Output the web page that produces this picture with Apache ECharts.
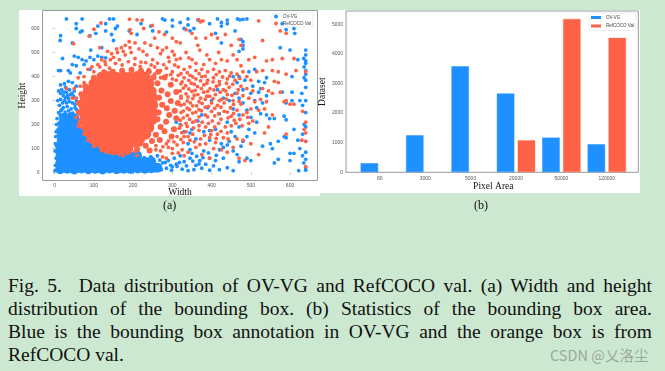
<!DOCTYPE html>
<html>
<head>
<meta charset="utf-8">
<script src="https://cdn.jsdelivr.net/npm/echarts@6/dist/echarts.min.js"></script>
<style>
  html, body { margin: 0; padding: 0; width: 665px; height: 371px; overflow: hidden; background: #cde8d0; }
  .panel { position: absolute; background: #fff; }
  #chart { position: absolute; left: 0; top: 0; width: 665px; height: 210px; filter: blur(0.3px); }
  .sub { position: absolute; top: 198px; font: 12px "Liberation Serif", serif; color: #111; }
  #caption {
    position: absolute; left: 8px; top: 274px; width: 644px;
    font: 19.5px/23px "Liberation Serif", serif; color: #111;
  }
  #caption div { text-align: justify; text-align-last: justify; white-space: pre-wrap; }
  #caption div:last-child { text-align-last: left; }
  #mark { position: absolute; left: 550px; top: 344px; font: 14.5px "Noto Sans CJK SC", "Noto Sans", sans-serif; color: #9aa89c; }
</style>
</head>
<body>
<div class="panel" style="left:19px;top:10px;width:301px;height:186px"></div>
<div class="panel" style="left:320px;top:10px;width:320px;height:183px"></div>
<div id="chart"></div>
<div class="sub" style="left:163px">(a)</div>
<div class="sub" style="left:474px">(b)</div>
<div id="caption">
<div>Fig. 5.  Data distribution of OV-VG and RefCOCO val. (a) Width and height</div>
<div>distribution of the bounding box. (b) Statistics of the bounding box area.</div>
<div>Blue is the bounding box annotation in OV-VG and the orange box is from</div>
<div>RefCOCO val.</div>
</div>
<div id="mark">CSDN @乂洛尘</div>

<script>
const areaLabels = ['80', '3000', '5000', '20000', '50000', '120000']
const ovvgCounts = [315, 1260, 3590, 2670, 1180, 957]
const refcocoCounts = [null, null, null, 1090, 5190, 4550]

// thick part of the blue cloud, bottom left
const ovvgDense = [
  [14,14],[32,16],[50,13],[68,17],[86,14],[104,16],[122,13],[140,17],[158,14],[176,16],[194,15],[212,17],[230,16],[246,18],[262,20],
  [14,38],[32,40],[50,36],[68,41],[86,38],[104,40],[122,37],[140,41],[158,38],[176,40],[194,39],[212,42],[230,44],[246,46],
  [14,62],[32,60],[50,64],[68,60],[86,63],[104,60],[122,64],[140,62],[158,65],[176,62],[194,66],[210,70],
  [14,86],[32,84],[50,88],[68,85],[86,88],[104,84],[122,88],[140,86],[156,88],[172,82],
  [14,110],[32,112],[50,108],[68,112],[86,110],[104,113],[120,108],
  [18,134],[34,130],[50,134],[68,132],[84,135],
  [18,158],[34,154],[52,159],[68,156],
  [20,182],[36,178],[54,183],[62,172],
  [22,206],[38,202],[52,205],
  [24,228],[40,230],[50,226]
]

const ovvgPoints = [
  [30,640],[70,640],[140,640],[150,640],[275,640],[281,635],[300,635],[320,625],[340,640],[355,600],[340,615],[365,635],[415,640],[425,625],[440,635],[466,640],[472,636],[480,638],[490,640],
  [55,620],[70,590],[55,600],[65,585],[15,570],[14,550],[45,540],[90,570],[105,580],[110,610],[130,620],[155,600],[160,610],[130,590],[145,575],[150,550],[190,590],[210,575],[220,620],[250,590],[245,610],[285,585],[300,610],[330,600],[345,590],[395,620],[410,580],[425,610],[440,620],[425,540],[460,590],[475,555],[480,530],[480,545],[480,515],[470,505],[590,595],[610,600],[612,580],[580,620],[600,510],[575,520],[640,510],[635,475],[620,470],[92,510],[120,520],
  [20,475],[50,485],[60,480],[70,470],[80,465],[90,480],[100,470],[110,485],[120,480],[130,478],[45,450],[55,445],[65,415],[75,450],[90,430],[10,425],[15,425],[35,425],[40,415],[15,365],[25,370],[35,380],[45,375],[55,360],[10,340],[15,330],[22,320],[30,335],[40,325],[50,340],[15,305],[25,300],[35,310],[45,290],[55,300],[12,280],[22,270],[32,275],[42,265],[52,270],[60,250],[10,250],[16,258],[6,225],[5,200],[4,170],[3,150],[2,120],[1,90],[18,345],[28,355],[8,300],[30,290],[38,345],[48,318],[20,290],[28,312],[37,296],[44,330],[18,262],[27,252],[36,258],[46,248],[56,262],[14,240],[10,205],[9,180],[6,110],[4,60],[2,30],[1,8],[24,335],[33,322],[52,285],
  [640,10],[640,20],[635,40],[640,55],[632,70],[640,85],[640,130],[632,160],[640,190],[636,200],[640,250],[632,280],[640,300],[630,330],[640,355],[640,385],[636,395],[640,410],[640,425],[636,440],[640,455],[640,465],[640,490],[622,8],[625,100],[625,300],[605,300],[605,335],[590,290],[580,335],[605,400],[610,180],[620,135],[600,50],[560,40],[570,55],[610,80],[585,235],[590,145],[560,225],[548,225],[540,240],[525,245],[515,270],[510,300],[530,290],[540,320],[525,350],[515,210],[510,165],[500,50],[490,60],[470,45],[465,75],[455,90],[475,110],[480,130],[490,150],[495,180],[500,230],[490,260],[480,290],[470,310],[460,330],[445,300],[430,310],[415,345],[400,300],[390,270],[375,240],[365,215],[350,180],[345,165],[330,170],[320,200],[310,210],[340,120],[345,95],[360,140],[380,170],[395,175],[410,180],[425,120],[430,105],[420,95],[440,115],[445,130],[450,170],[460,150],[470,190],[440,210],[420,245],[395,135],[380,90],[370,50],[360,30],[345,60],[330,45],[320,70],[305,60],[310,35],[290,50],[275,40],[260,25],[245,15],[235,40],[225,20],[215,45],[340,8],[355,12],[375,18],[395,10],[420,12],[440,20],[455,8],[410,50],[430,60],[395,60],[385,35],[530,110],[550,120],[570,130],[555,100],[585,150],[600,80],[590,220],[470,240],[455,265],[480,345],[465,375],[485,385],[505,360],[520,380],[535,375],[540,395],[510,430],[495,420],[470,400],[455,400],[520,335],[500,330],
  [255,8],[272,12],[285,18],[298,10],[312,26],[325,14],[236,55],[252,48],[268,52],[282,42],[296,30],[228,62],[245,66],[262,70],[300,24],[318,42],[336,28],[352,48],[368,36],[220,52],[350,80],[362,68],[378,62],[392,82],[405,28],[412,72]
]

// solid middle of the orange cloud
const refcocoDense = [
  [135,100],[152,96],[168,100],[186,98],
  [108,130],[126,127],[144,131],[162,128],[180,131],[198,127],[214,130],
  [92,160],[110,157],[128,161],[146,158],[164,161],[182,158],[200,161],[218,157],[232,160],
  [82,190],[100,187],[118,191],[136,188],[154,191],[172,188],[190,191],[208,188],[226,191],[240,187],
  [76,220],[94,217],[112,221],[130,218],[148,221],[166,218],[184,221],[202,218],[220,221],[238,217],[248,221],
  [74,250],[92,247],[110,251],[128,248],[146,251],[164,248],[182,251],[200,248],[218,251],[236,247],[250,251],
  [74,280],[92,277],[110,281],[128,278],[146,281],[164,278],[182,281],[200,278],[218,281],[236,277],[250,281],
  [78,310],[96,307],[114,311],[132,308],[150,311],[168,308],[186,311],[204,308],[222,311],[240,307],[250,311],
  [86,340],[104,337],[122,341],[140,338],[158,341],[176,338],[194,341],[212,337],[230,341],[246,338],
  [100,370],[118,367],[136,371],[154,368],[172,371],[190,367],[208,371],[226,368],[240,371],
  [120,398],[138,400],[156,397],[174,400],[192,398],[210,400],[228,398]
]

// medium dots around the solid middle
const refcocoRing = [
  [262,222],[270,190],[258,158],[248,132],[232,112],[210,98],[265,250],[274,282],[266,312],[272,342],[262,372],[252,396],[240,420],[220,424],[196,428],[172,424],[148,420],[126,418],
  [284,212],[292,240],[286,268],[296,298],[288,326],[280,172],[268,136],[242,92],[120,104],[96,132],[80,165],[66,210],[62,250],[62,290],[68,326],[78,360],[100,395],
  [310,226],[306,258],[314,290],[304,180],[298,150],[310,336],[296,366],[280,396],[264,420]
]

const refcocoPoints = [
  [191,639],[210,636],[223,635],[367,637],[372,628],[378,632],[520,632],[118,623],[227,600],[249,613],[266,586],[192,595],[195,580],[100,597],[88,568],[48,537],[115,520],[135,505],[145,495],[160,500],[170,520],[175,505],[180,530],[190,545],[205,540],[215,515],[230,540],[245,530],[255,560],[280,575],[300,560],[310,545],[320,540],[335,595],[350,580],[360,560],[365,530],[385,560],[400,575],[415,560],[435,575],[450,530],[470,555],[475,530],[530,550],[590,580],[575,590],[510,480],[495,470],
  [150,480],[165,470],[180,490],[195,500],[205,475],[220,460],[235,490],[250,470],[270,495],[275,510],[285,520],[290,480],[300,505],[310,470],[320,475],[335,500],[350,470],[360,455],[370,510],[380,450],[395,470],[410,455],[425,470],[440,465],[455,490],[465,470],[475,445],[120,470],[110,450],[95,440],[85,430],[100,420],[115,440],[130,450],[140,435],[75,400],[60,395],[50,350],[30,350],[45,310],[55,310],[60,195],[55,230],[65,360],[75,375],
  [155,455],[172,448],[188,462],[204,450],[218,442],[232,458],[246,448],[262,456],[278,450],[292,462],[306,448],[128,462],[142,470],[158,515],[192,520],[225,505],[262,520],[305,490],[342,478],[388,490],[418,500],
  [240,430],[255,440],[270,425],[285,435],[300,420],[315,440],[330,430],[345,440],[360,425],[375,430],[390,420],[405,430],[420,420],[435,425],[450,415],[465,410],[480,420],[490,400],[500,385],[515,420],[530,425],[555,425],[570,420],[590,410],[615,425],[640,420],[610,475],[580,475],[555,470],[540,465],[590,300],[585,295],[600,285],[610,285],[575,335],[560,380],[570,375],[545,340],[555,330],[530,350],[525,305],[540,295],[520,260],[535,265],[555,240],[535,165],[520,75],[545,190],[590,160],[640,130],[630,135],[640,210],[636,180],[640,165],[632,255],[640,25],
  [296,408],[322,412],[338,416],[352,398],[368,412],[384,402],[412,408],[428,398],[446,402],[472,392],[310,385],[325,378],[342,384],[356,368],[372,382],[388,372],[404,378],[420,366],[438,372],[454,368],[328,352],[342,348],[358,342],[374,350],[390,338],[406,344],[422,335],[436,340],[452,322],[468,345],[322,318],[340,315],[356,322],[372,310],[388,318],[404,308],[420,300],[438,306],[456,284],[470,296],[330,285],[346,290],[362,278],[376,288],[392,276],[408,268],[424,272],[440,252],[456,246],[472,222],[328,256],[344,262],[360,252],[374,258],[390,232],[408,236],[424,222],[442,228],[458,218],[328,228],[344,222],[360,215],[376,210],[392,205],[408,190],[424,172],[442,140],[322,196],[338,192],[354,186],[368,176],[382,155],[398,158],[412,142],[324,166],[340,150],[356,128],[370,116],[322,138],[304,128],[290,132],[276,108],[258,112],[300,100],[315,82],[330,70],
  [240,400],[255,410],[270,395],[285,405],[300,390],[315,405],[330,395],[345,405],[360,390],[375,400],[390,385],[405,395],[420,380],[440,390],[460,385],[475,360],[490,350],[505,340],
  [322,370],[334,362],[348,372],[364,358],[380,365],[396,350],[412,360],[430,345],[445,355],[465,330],[480,320],[495,310],[510,295],
  [320,340],[335,328],[350,338],[365,325],[380,335],[395,318],[410,325],[425,305],[440,325],[455,300],[475,285],[490,250],[500,265],
  [322,310],[338,298],[352,308],[368,295],[384,305],[400,290],[415,280],[432,290],[448,270],[465,260],[480,240],[492,230],[505,215],
  [322,280],[338,268],[352,278],[368,262],[384,272],[400,255],[418,245],[432,255],[450,235],[462,205],[478,195],[495,205],
  [322,250],[338,238],[352,248],[368,232],[384,240],[402,215],[418,205],[435,190],[450,195],[440,165],[465,140],[480,135],[500,120],
  [320,218],[335,205],[352,210],[368,195],[385,190],[400,175],[415,160],[430,145],[395,145],[410,125],[425,95],[405,100],[440,85],[455,105],[470,60],[485,50],
  [318,185],[335,170],[352,160],[372,140],[385,120],[360,105],[345,135],[328,125],[312,115],[395,60],[375,75],
  [312,150],[330,150],[340,85],[325,95],[300,80],[285,60],[275,65],[290,105],
  [225,135],[285,120],[240,90],[258,95],[270,90],[205,88],[185,80],[165,75],[145,82],[120,92],[100,110],[85,135],[75,160],[65,190],[175,70],[210,72]
]

const chart = echarts.init(document.getElementById('chart'))

const serif = '"Liberation Serif", serif'
const plainNumber = v => String(v)
const tickText = { color: '#555', fontSize: 5, fontFamily: 'Liberation Sans', formatter: plainNumber }
const frame = { show: true, borderColor: '#999', borderWidth: 1, backgroundColor: 'transparent' }
const tickMark = { length: 2, lineStyle: { color: '#777', width: 0.5 } }
const axisTitle = { fontFamily: serif, fontSize: 9.5, color: '#111' }

chart.setOption({
  animation: false,
  grid: [
    { ...frame, left: 42.5, top: 10.5, width: 275, height: 170 },
    { ...frame, left: 346, top: 11, width: 292.3, height: 161.3 },
    { show: false, left: 357.1, top: 11, width: 272.4, height: 161.3 }
  ],
  legend: [
    {
      left: 272, top: 13, orient: 'vertical', itemWidth: 4, itemHeight: 4, itemGap: 2, padding: [1, 2],
      borderColor: '#ddd', borderWidth: 0.5, borderRadius: 1,
      textStyle: { fontSize: 4.5, color: '#444' },
      data: [{ name: 'OV-VG', icon: 'circle' }, { name: 'RefCOCO Val', icon: 'circle' }]
    },
    {
      left: 589, top: 13, orient: 'vertical', itemWidth: 10, itemHeight: 3, itemGap: 3.5, padding: [2, 2],
      borderColor: '#ddd', borderWidth: 0.5, borderRadius: 1,
      textStyle: { fontSize: 4.5, color: '#444' },
      data: [{ name: 'OV-VG', icon: 'rect' }, { name: 'RefCOCO Val', icon: 'rect' }]
    }
  ],
  xAxis: [
    {
      gridIndex: 0, type: 'value', min: -31, max: 670, splitNumber: 7,
      name: 'Width', nameLocation: 'middle', nameGap: 7, nameMoveOverlap: false,
      nameTextStyle: axisTitle,
      splitLine: { show: false }, axisLine: { show: false }, axisTick: tickMark,
      axisLabel: { ...tickText, margin: 3, showMinLabel: false, showMaxLabel: false }
    },
    { gridIndex: 1, type: 'value', show: false },
    {
      gridIndex: 2, type: 'category', data: areaLabels,
      name: 'Pixel Area', nameLocation: 'middle', nameGap: 9, nameMoveOverlap: false,
      nameTextStyle: axisTitle,
      axisLine: { show: false }, axisTick: { ...tickMark, alignWithLabel: true },
      axisLabel: { color: '#555', fontSize: 5, fontFamily: 'Liberation Sans', margin: 4 }
    }
  ],
  yAxis: [
    {
      gridIndex: 0, type: 'value', min: -33, max: 675, splitNumber: 7,
      name: 'Height', nameLocation: 'middle', nameGap: 12,
      nameTextStyle: axisTitle,
      splitLine: { show: false }, axisLine: { show: false }, axisTick: tickMark,
      axisLabel: { ...tickText, margin: 3, showMinLabel: false, showMaxLabel: false }
    },
    { gridIndex: 1, type: 'value', show: false },
    {
      gridIndex: 2, type: 'value', min: 0, max: 5449, interval: 1000, offset: 11.1,
      name: 'Dataset', nameLocation: 'middle', nameGap: 16,
      nameTextStyle: axisTitle,
      splitLine: { show: false }, axisLine: { show: false }, axisTick: tickMark,
      axisLabel: { ...tickText, margin: 3, showMaxLabel: false }
    }
  ],
  series: [
    { name: 'OV-VG', type: 'scatter', xAxisIndex: 0, yAxisIndex: 0, data: ovvgDense, symbolSize: 10, itemStyle: { color: '#1e90ff', opacity: 1 } },
    { name: 'OV-VG', type: 'scatter', xAxisIndex: 0, yAxisIndex: 0, data: ovvgPoints, symbolSize: 3.8, itemStyle: { color: '#1e90ff', opacity: 1 } },
    { name: 'RefCOCO Val', type: 'scatter', xAxisIndex: 0, yAxisIndex: 0, data: refcocoDense, symbolSize: 11, itemStyle: { color: '#ff6347', opacity: 1 } },
    { name: 'RefCOCO Val', type: 'scatter', xAxisIndex: 0, yAxisIndex: 0, data: refcocoRing, symbolSize: 6, itemStyle: { color: '#ff6347', opacity: 1 } },
    { name: 'RefCOCO Val', type: 'scatter', xAxisIndex: 0, yAxisIndex: 0, data: refcocoPoints, symbolSize: 3.8, itemStyle: { color: '#ff6347', opacity: 1 } },
    {
      name: 'OV-VG', type: 'bar', xAxisIndex: 2, yAxisIndex: 2, data: ovvgCounts,
      barWidth: 18, barGap: '16%', itemStyle: { color: '#1e90ff', borderColor: 'rgba(30,144,255,0.45)', borderWidth: 1 }
    },
    {
      name: 'RefCOCO Val', type: 'bar', xAxisIndex: 2, yAxisIndex: 2, data: refcocoCounts,
      barWidth: 18, itemStyle: { color: '#ff6347', borderColor: 'rgba(255,99,71,0.4)', borderWidth: 1 }
    }
  ]
})
</script>
</body>
</html>
